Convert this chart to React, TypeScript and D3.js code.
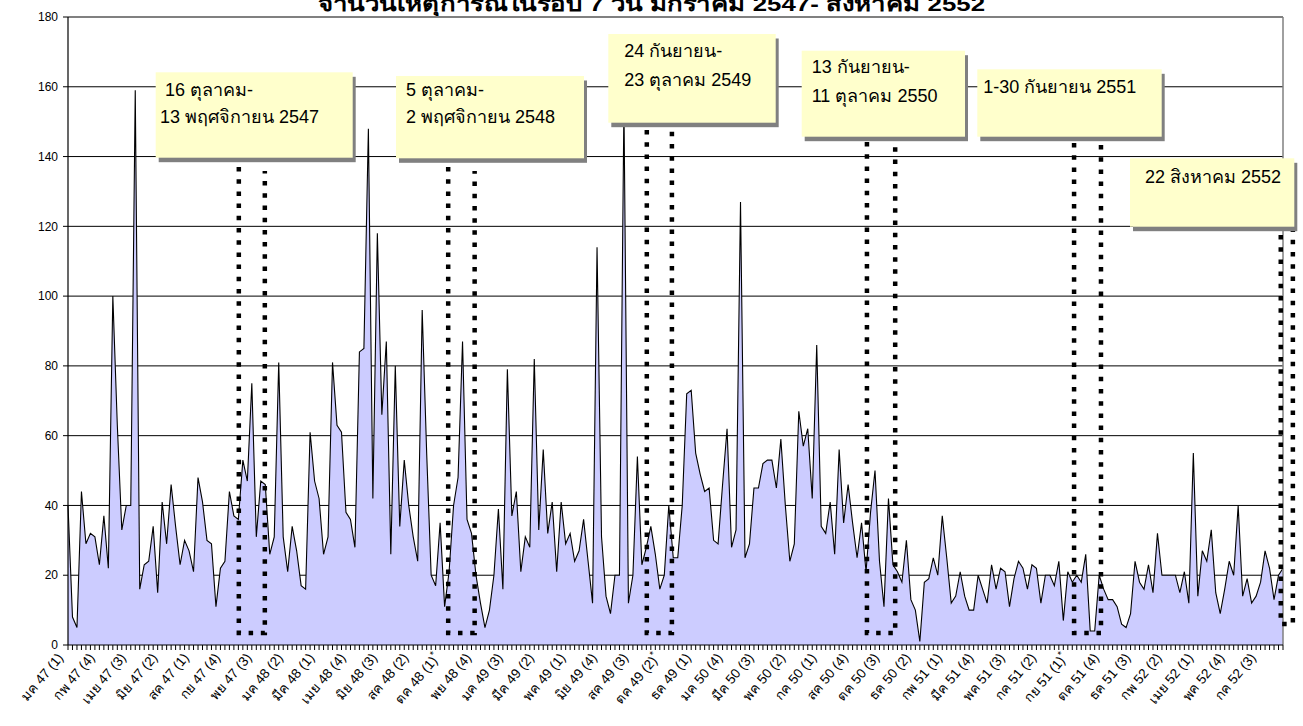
import React from "react";
import * as d3 from "d3";

// Weekly counts (4 "weeks" per month), Jan 2547 (1) ... Aug 2552
const values: number[] = [
  40, 8, 5, 44, 29, 32, 31, 23, 37, 22,
  100, 63, 33, 40, 40, 159, 16, 23, 24, 34,
  15, 41, 29, 46, 34, 23, 30, 27, 21, 48,
  41, 30, 29, 11, 22, 24, 44, 37, 36, 53,
  47, 75, 31, 47, 46, 26, 31, 81, 31, 21,
  34, 27, 17, 16, 61, 47, 42, 26, 31, 81,
  63, 61, 38, 36, 28, 84, 85, 148, 42, 118,
  66, 87, 26, 80, 34, 53, 40, 31, 24, 96,
  55, 20, 17, 35, 11, 21, 40, 48, 87, 36,
  32, 20, 12, 5, 10, 20, 39, 16, 79, 37,
  44, 21, 31, 28, 82, 33, 56, 32, 41, 21,
  41, 29, 32, 24, 27, 36, 24, 12, 114, 31,
  14, 9, 20, 20, 155, 12, 20, 54, 23, 28,
  34, 26, 16, 20, 40, 25, 25, 40, 72, 73,
  55, 49, 44, 45, 30, 29, 46, 62, 28, 33,
  127, 25, 29, 45, 45, 52, 53, 53, 45, 59,
  40, 24, 29, 67, 57, 62, 42, 86, 34, 32,
  41, 26, 56, 35, 46, 35, 25, 35, 21, 38,
  50, 24, 11, 42, 23, 21, 18, 30, 13, 10,
  1, 18, 19, 25, 20, 37, 25, 12, 14, 21,
  14, 10, 10, 20, 16, 12, 23, 16, 22, 21,
  11, 19, 24, 22, 16, 23, 22, 12, 20, 20,
  17, 24, 7, 21, 18, 20, 18, 26, 4, 4,
  20, 16, 13, 13, 11, 6, 5, 9, 24, 18,
  16, 23, 15, 32, 20, 20, 20, 20, 15, 21,
  12, 55, 14, 27, 24, 33, 15, 9, 16, 24,
  20, 40, 14, 19, 12, 14, 18, 27, 22, 13,
  20, 22,
];

// Category labels shown on the axis (every 7th category)
const tickLabels: string[] = [
  "มค 47 (1)", "กพ 47 (4)", "เมย 47 (3)", "มิย 47 (2)", "สค 47 (1)", "กย 47 (4)",
  "พย 47 (3)", "มค 48 (2)", "มีค 48 (1)", "เมย 48 (4)", "มิย 48 (3)", "สค 48 (2)",
  "ตค 48 (1)*", "พย 48 (4)", "มค 49 (3)", "มีค 49 (2)", "พค 49 (1)", "มิย 49 (4)",
  "สค 49 (3)", "ตค 49 (2)*", "ธค 49 (1)", "มค 50 (4)", "มีค 50 (3)", "พค 50 (2)",
  "กค 50 (1)", "สค 50 (4)", "ตค 50 (3)", "ธค 50 (2)", "กพ 51 (1)", "มีค 51 (4)",
  "พค 51 (3)", "กค 51 (2)", "กย 51 (1)*", "ตค 51 (4)", "ธค 51 (3)", "กพ 52 (2)",
  "เมย 52 (1)", "พค 52 (4)", "กค 52 (3)",
];
const tickEvery = 7;
const yTicks: number[] = [0, 20, 40, 60, 80, 100, 120, 140, 160, 180];

const title = "จำนวนเหตุการณ์ในรอบ 7 วัน มกราคม 2547- สิงหาคม 2552";

// Annotated periods
const periodTexts: string[][] = [
  ["16 ตุลาคม-", "13 พฤศจิกายน 2547"],
  ["5 ตุลาคม-", "2 พฤศจิกายน 2548"],
  ["24 กันยายน-", "23 ตุลาคม 2549"],
  ["13 กันยายน-", "11 ตุลาคม 2550"],
  ["1-30 กันยายน 2551"],
  ["22 สิงหาคม 2552"],
];
// period start / end in category index units
const periodStart: number[] = [38.1, 84.8, 129.1, 178.2, 224.4, 270.5];
const periodEnd: number[] = [43.9, 90.7, 134.7, 184.5, 230.4, 273.2];

// layout of the callout boxes (pixels)
const boxLayout = [
  { x0: 155.7, y0: 72.3, x1: 352.7, y1: 157.7, tx: [165, 160], ty: [96, 123.3], topL: 167, topR: 171, bot: 633 },
  { x0: 396, y0: 76, x1: 584, y1: 158.3, tx: [406, 406], ty: [96, 123.3], topL: 167, topR: 171, bot: 633 },
  { x0: 608.3, y0: 34, x1: 775.7, y1: 122.7, tx: [624.3, 624.3], ty: [57.3, 85.7], topL: 130, topR: 127, bot: 633 },
  { x0: 801.7, y0: 50.7, x1: 965, y1: 136.7, tx: [811.7, 811.7], ty: [73.3, 101.7], topL: 142, topR: 147, bot: 633 },
  { x0: 977.3, y0: 69.3, x1: 1161.7, y1: 136.7, tx: [983.3], ty: [92.7], topL: 143, topR: 145, bot: 633 },
  { x0: 1130, y0: 158.3, x1: 1294.3, y1: 226.7, tx: [1145], ty: [182.7], topL: 235, topR: 231, bot: 624 },
];

const FONT = "'Liberation Sans', Arial, 'Noto Sans', 'DejaVu Sans', sans-serif";

export default function App() {
  const W = 1303, H = 726;
  const left = 68, right = 1283, top = 17, bottom = 645;
  const N = values.length;
  const x = d3.scaleLinear().domain([0, N - 1]).range([left, right]);
  const y = d3.scaleLinear().domain([0, 180]).range([bottom, top]);

  const area = d3.area<number>().x((_, i) => x(i)).y0(y(0)).y1((d) => y(d));
  const line = d3.line<number>().x((_, i) => x(i)).y((d) => y(d));

  return (
    <svg width={W} height={H} style={{ position: "absolute", left: 0, top: 0, background: "#fff" }}
      fontFamily={FONT}>
      <rect x={0} y={0} width={W} height={H} fill="#fff" />
      <text x={318} y={11} fontSize={21} fontWeight="bold" textLength={667}
        lengthAdjust="spacingAndGlyphs">{title}</text>

      {/* gridlines */}
      {yTicks.filter((t) => t > 0 && t < 180).map((t) => (
        <line key={t} x1={left} x2={right} y1={y(t)} y2={y(t)} stroke="#000" strokeWidth={1} />
      ))}

      {/* area */}
      <path d={area(values) || ""} fill="#ccccff" />
      <path d={line(values) || ""} fill="none" stroke="#000" strokeWidth={1.1} strokeLinejoin="miter" />

      {/* plot border top/right */}
      <line x1={left} x2={right} y1={y(180)} y2={y(180)} stroke="#808080" strokeWidth={2} />
      <line x1={right} x2={right} y1={y(180)} y2={y(0)} stroke="#808080" strokeWidth={1.5} />

      {/* y axis */}
      <line x1={left} x2={left} y1={y(180)} y2={y(0)} stroke="#000" strokeWidth={1.2} />
      {yTicks.map((t) => (
        <g key={t}>
          <line x1={left - 5} x2={left} y1={y(t)} y2={y(t)} stroke="#000" />
          <text x={left - 10} y={y(t)} dy="0.35em" textAnchor="end" fontSize={12}>{t}</text>
        </g>
      ))}

      {/* x axis */}
      <line x1={left} x2={right} y1={y(0)} y2={y(0)} stroke="#000" strokeWidth={1.2} />
      {values.map((_, i) => (
        <line key={i} x1={x(i)} x2={x(i)} y1={y(0)} y2={y(0) + 5} stroke="#000" strokeWidth={1} />
      ))}
      {tickLabels.map((lab, k) => {
        const i = k * tickEvery;
        const star = lab.endsWith("*");
        const txt = star ? lab.slice(0, -1) : lab;
        return (
          <text key={k} transform={`translate(${x(i) - 4},${y(0) + 13}) rotate(-50)`} textAnchor="end"
            fontSize={13.5}>
            {txt}
            {star ? <tspan dy={-5} fontSize={10}>*</tspan> : null}
          </text>
        );
      })}

      {/* dotted period markers */}
      {boxLayout.map((b, k) => {
        const xl = x(periodStart[k]);
        const xr = x(periodEnd[k]);
        return (
          <path key={k} d={`M${xl},${b.topL} L${xl},${b.bot} L${xr},${b.bot} L${xr},${b.topR}`}
            fill="none" stroke="#000" strokeWidth={4.5} strokeDasharray="4.5 7.7" />
        );
      })}

      {/* callout boxes */}
      {boxLayout.map((b, k) => (
        <g key={k}>
          <rect x={b.x0 + 3} y={b.y0 + 4.5} width={b.x1 - b.x0} height={b.y1 - b.y0} fill="#808080" />
          <rect x={b.x0} y={b.y0} width={b.x1 - b.x0} height={b.y1 - b.y0} fill="#ffffcc" />
          {periodTexts[k].map((t, j) => (
            <text key={j} x={b.tx[j]} y={b.ty[j]} fontSize={18}>{t}</text>
          ))}
        </g>
      ))}
    </svg>
  );
}
